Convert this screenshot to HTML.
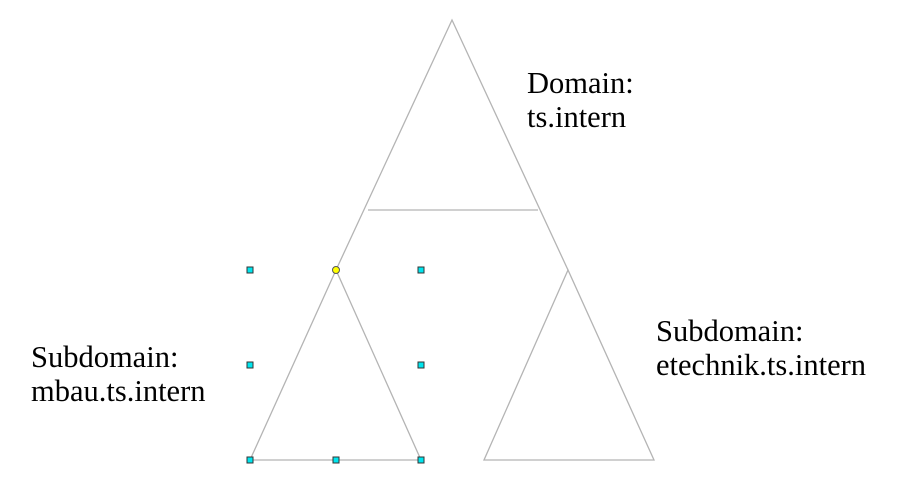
<!DOCTYPE html>
<html><head><style>
body{margin:0;background:#fff;position:relative;width:921px;height:489px;overflow:hidden}
svg{display:block;position:absolute;left:0;top:0}
.t{position:absolute;font-family:"Liberation Serif","DejaVu Serif",serif;font-size:30.5px;line-height:34px;color:#000;white-space:nowrap}
</style></head><body>
<svg width="921" height="489" xmlns="http://www.w3.org/2000/svg">
<g stroke="#b4b4b4" stroke-width="1.3" fill="none">
<polyline points="336,270 452,20 568,270"/>
<line x1="368" y1="210" x2="538" y2="210"/>
<polygon points="336,270 250,460 421,460"/>
<polygon points="568,270 484,460 654,460"/>
</g>
<g fill="#00e5ee" stroke="#333" stroke-width="1">
<rect x="247" y="267" width="6" height="6"/><rect x="418" y="267" width="6" height="6"/>
<rect x="247" y="362" width="6" height="6"/><rect x="418" y="362" width="6" height="6"/>
<rect x="247" y="457" width="6" height="6"/><rect x="333" y="457" width="6" height="6"/><rect x="418" y="457" width="6" height="6"/>
</g>
<circle cx="336" cy="270" r="3.5" fill="#ffff00" stroke="#555" stroke-width="1"/>
</svg>
<div class="t" style="left:527px;top:66px">Domain:<br>ts.intern</div>
<div class="t" style="left:31px;top:340px">Subdomain:<br>mbau.ts.intern</div>
<div class="t" style="left:656px;top:314px">Subdomain:<br>etechnik.ts.intern</div>
</body></html>
